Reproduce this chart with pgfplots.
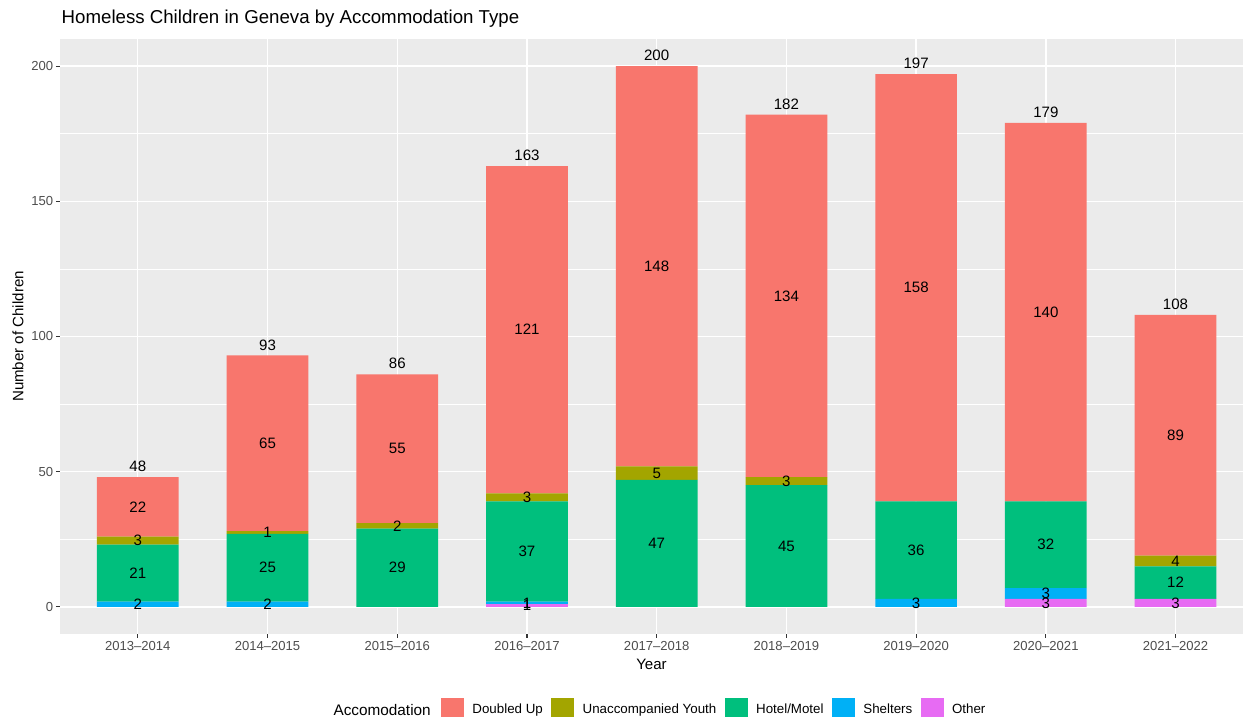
\documentclass[border=0pt]{standalone}
\usepackage{fontspec}
\setmainfont{Liberation Sans}
\usepackage{pgfplots}
\pgfplotsset{compat=1.18}
\usepackage{pgfplotstable}
\definecolor{ggbg}{HTML}{EBEBEB}
\definecolor{cDU}{HTML}{F8766D}
\definecolor{cUY}{HTML}{A3A500}
\definecolor{cHM}{HTML}{00BF7D}
\definecolor{cSH}{HTML}{00B0F6}
\definecolor{cOT}{HTML}{E76BF3}
\definecolor{grey30}{HTML}{4D4D4D}
\definecolor{grey20}{HTML}{333333}

\pgfplotstableread{
x other shelters hotel youth doubled
0 0 2 21 3 22
1 0 2 25 1 65
2 0 0 29 2 55
3 1 1 37 3 121
4 0 0 47 5 148
5 0 0 45 3 134
6 0 3 36 0 158
7 3 4 32 0 140
8 3 0 12 4 89
}\bars

\pgfplotstableread{
x y lab
0 1 2
0 12.5 21
0 24.5 3
0 37 22
1 1 2
1 14.5 25
1 27.5 1
1 60.5 65
2 14.5 29
2 30 2
2 58.5 55
3 0.5 1
3 1.5 1
3 20.5 37
3 40.5 3
3 102.5 121
4 23.5 47
4 49.5 5
4 126 148
5 22.5 45
5 46.5 3
5 115 134
6 1.5 3
6 21 36
6 118 158
7 1.5 3
7 5 3
7 23 32
7 109 140
8 1.5 3
8 9 12
8 17 4
8 63.5 89
}\seglabels

\pgfplotstableread{
x y lab
0 48 48
1 93 93
2 86 86
3 163 163
4 200 200
5 182 182
6 197 197
7 179 179
8 108 108
}\totals

\pgfplotsset{
  legimg/.style={legend image code/.code={\fill[##1] (0pt,-8.6pt) rectangle (17.25pt,8.6pt);}},
  common/.style={at={(45pt,62.25pt)}, anchor=south west, scale only axis,
    width=887.25pt, height=446.25pt, xmin=-0.6, xmax=8.52, ymin=-10, ymax=210},
}

\begin{document}
\begin{tikzpicture}
\useasboundingbox (0,0) rectangle (932.25pt,537.75pt);
\begin{axis}[common,
  ybar stacked, bar width=0.63,
  axis background/.style={fill=ggbg},
  axis line style={draw=none},
  xtick={0,1,2,3,4,5,6,7,8},
  xticklabels={2013–2014,2014–2015,2015–2016,2016–2017,2017–2018,2018–2019,2019–2020,2020–2021,2021–2022},
  ytick={0,50,100,150,200},
  minor ytick={25,75,125,175},
  xmajorgrids, ymajorgrids, yminorgrids,
  major grid style={white, line width=1pt},
  minor grid style={white, line width=0.5pt},
  tick pos=left, tick align=outside,
  major tick length=3pt, minor tick length=0pt,
  major tick style={grey20, line width=0.8pt},
  /pgf/number format/assume math mode=true,
  ticklabel style={font=\fontsize{9.8}{11}\selectfont, text=grey30},
  yticklabel style={inner sep=2pt},
  xticklabel style={inner sep=2pt},
  xlabel={Year}, ylabel={Number of Children},
  label style={font=\fontsize{11.3}{13}\selectfont, text=black},
  xlabel style={at={(axis description cs:0.5,-0.0504)}, anchor=center, inner sep=0pt},
  ylabel style={at={(axis description cs:-0.0355,0.5)}, anchor=center, inner sep=0pt},
  title={Homeless Children in Geneva by Accommodation Type},
  title style={at={(axis description cs:0,1)}, anchor=base west, xshift=1.1pt, yshift=5.25pt, inner sep=0pt, font=\fontsize{14}{16}\selectfont},
  legend style={at={(axis description cs:0.3221,-0.1275)}, anchor=west, draw=none, fill=none,
    inner sep=0pt, outer sep=0pt, legend columns=-1, font=\fontsize{10}{11}\selectfont,
    /tikz/every odd column/.append style={column sep=4.3pt},
    /tikz/every even column/.append style={column sep=4.3pt}},
  reverse legend,
]
\addplot[fill=cOT, draw=none, legimg] table[x=x, y=other]{\bars};
\addlegendentry{Other}
\addplot[fill=cSH, draw=none, legimg] table[x=x, y=shelters]{\bars};
\addlegendentry{Shelters}
\addplot[fill=cHM, draw=none, legimg] table[x=x, y=hotel]{\bars};
\addlegendentry{Hotel/Motel}
\addplot[fill=cUY, draw=none, legimg] table[x=x, y=youth]{\bars};
\addlegendentry{Unaccompanied Youth}
\addplot[fill=cDU, draw=none, legimg] table[x=x, y=doubled]{\bars};
\addlegendentry{Doubled Up}
\end{axis}
\begin{axis}[common, hide axis, clip=false]
\addplot[draw=none, nodes near coords, point meta=explicit symbolic,
  every node near coord/.style={anchor=center, inner sep=0pt, font=\fontsize{11.3}{13}\selectfont, text=black}]
  table[x=x, y=y, meta=lab]{\seglabels};
\addplot[draw=none, nodes near coords, point meta=explicit symbolic,
  every node near coord/.style={anchor=south, inner sep=0pt, yshift=3.75pt, font=\fontsize{11.3}{13}\selectfont, text=black}]
  table[x=x, y=y, meta=lab]{\totals};
\node[anchor=east, inner sep=0pt, font=\fontsize{11.5}{13}\selectfont] at (axis description cs:0.3136,-0.1275) {Accomodation};
\end{axis}
\end{tikzpicture}
\end{document}
